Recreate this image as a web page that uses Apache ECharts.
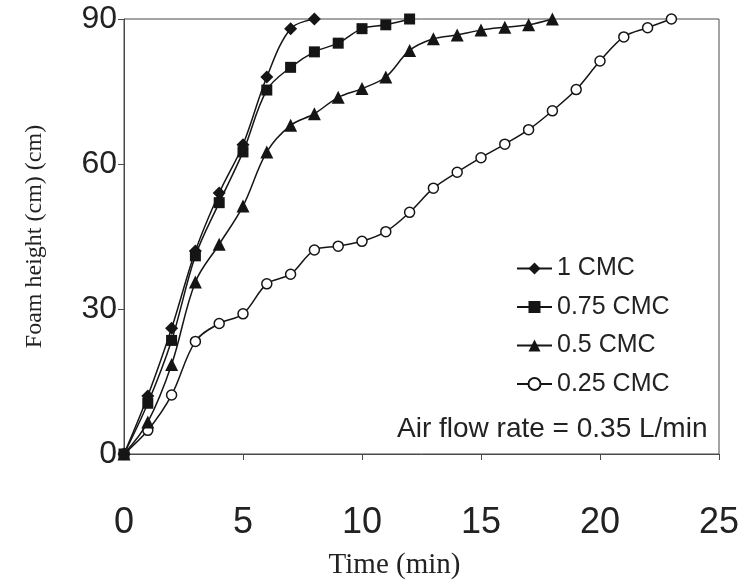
<!DOCTYPE html>
<html>
<head>
<meta charset="utf-8">
<script src="https://cdn.jsdelivr.net/npm/echarts@6/dist/echarts.min.js"></script>
<style>
html,body{margin:0;padding:0;background:#fff;}
#chart{width:748px;height:585px;}
</style>
</head>
<body>
<div id="chart"></div>
<script>
// ---- data ----
var seriesNames = ['1 CMC', '0.75 CMC', '0.5 CMC', '0.25 CMC'];
var time1 = [0, 1, 2, 3, 4, 5, 6, 7, 8];
var height1 = [0, 12, 26, 42, 54, 64, 78, 88, 90];
var time075 = [0, 1, 2, 3, 4, 5, 6, 7, 8, 9, 10, 11, 12];
var height075 = [0, 10.5, 23.5, 41, 52, 62.5, 75.3, 80, 83.2, 85, 88, 88.8, 90];
var time05 = [0, 1, 2, 3, 4, 5, 6, 7, 8, 9, 10, 11, 12, 13, 14, 15, 16, 17, 18];
var height05 = [0, 6.6, 18.5, 35.6, 43.4, 51.3, 62.5, 68, 70.4, 73.8, 75.6, 78, 83.5, 85.9, 86.7, 87.7, 88.3, 88.8, 90];
var time025 = [0, 1, 2, 3, 4, 5, 6, 7, 8, 9, 10, 11, 12, 13, 14, 15, 16, 17, 18, 19, 20, 21, 22, 23];
var height025 = [0, 4.9, 12.2, 23.3, 27, 29, 35.2, 37.2, 42.2, 43, 44, 46, 50, 55, 58.3, 61.3, 64.1, 67.1, 71, 75.4, 81.3, 86.3, 88.2, 90];
var xTicks = [0, 5, 10, 15, 20, 25];
var yTicks = [0, 30, 60, 90];
var xTitle = 'Time (min)';
var yTitle = 'Foam height (cm) (cm)';
var note = 'Air flow rate = 0.35 L/min';

function pairs(t, h) { return t.map(function (v, i) { return [v, h[i]]; }); }

var sans = '"Liberation Sans", Arial, sans-serif';
var serif = '"Liberation Serif", "Times New Roman", serif';
var lineColor = '#151515';
var axisColor = '#4a4a4a';

function mkSeries(name, data, symbol, size, filled, z) {
  return {
    name: name,
    type: 'line',
    data: data,
    z: z,
    smooth: 0.35,
    symbol: symbol,
    symbolSize: size,
    showAllSymbol: true,
    clip: false,
    lineStyle: { color: lineColor, width: 1.5 },
    itemStyle: filled ? { color: lineColor, borderColor: lineColor, borderWidth: 0 }
                      : { color: '#fff', borderColor: lineColor, borderWidth: 1.5 },
    emphasis: { disabled: true }
  };
}

var chart = echarts.init(document.getElementById('chart'), null, { renderer: 'canvas' });
chart.setOption({
  animation: false,
  backgroundColor: '#fff',
  grid: { left: 124, right: 29, top: 19, bottom: 126, show: true, borderColor: axisColor, borderWidth: 1, backgroundColor: 'transparent' },
  xAxis: {
    type: 'value', min: xTicks[0], max: xTicks[xTicks.length - 1], interval: 5,
    name: xTitle, nameLocation: 'middle', nameGap: 97,
    nameTextStyle: { fontFamily: serif, fontSize: 29, color: '#222', padding: [0, 54, 0, 0] },
    axisLine: { show: true, lineStyle: { color: axisColor, width: 1 } },
    axisTick: { show: true, inside: false, length: 6, lineStyle: { color: axisColor } },
    axisLabel: { fontFamily: sans, fontSize: 36, color: '#222', margin: 51 },
    splitLine: { show: false }
  },
  yAxis: {
    type: 'value', min: yTicks[0], max: yTicks[yTicks.length - 1], interval: 30,
    name: yTitle, nameLocation: 'middle', nameGap: 77,
    nameTextStyle: { fontFamily: serif, fontSize: 24, color: '#222' },
    axisLine: { show: true, lineStyle: { color: axisColor, width: 1 } },
    axisTick: { show: true, inside: false, length: 6, lineStyle: { color: axisColor } },
    axisLabel: { fontFamily: sans, fontSize: 32, color: '#222', margin: 7 },
    splitLine: { show: false }
  },
  legend: {
    orient: 'vertical', left: 511, top: 251,
    itemWidth: 35, itemHeight: 15, itemGap: 13.5,
    textStyle: { fontFamily: sans, fontSize: 25, color: '#222', lineHeight: 25 },
    data: seriesNames
  },
  graphic: [{
    type: 'text', left: 397, top: 415,
    style: { text: note, font: '28px ' + sans, fill: '#222' }
  }],
  series: [
    mkSeries(seriesNames[0], pairs(time1, height1), 'diamond', 13, true, 3),
    mkSeries(seriesNames[1], pairs(time075, height075), 'rect', 11, true, 4),
    mkSeries(seriesNames[2], pairs(time05, height05), 'triangle', 13, true, 3),
    mkSeries(seriesNames[3], pairs(time025, height025), 'circle', 10, false, 2)
  ]
});
</script>
</body>
</html>
